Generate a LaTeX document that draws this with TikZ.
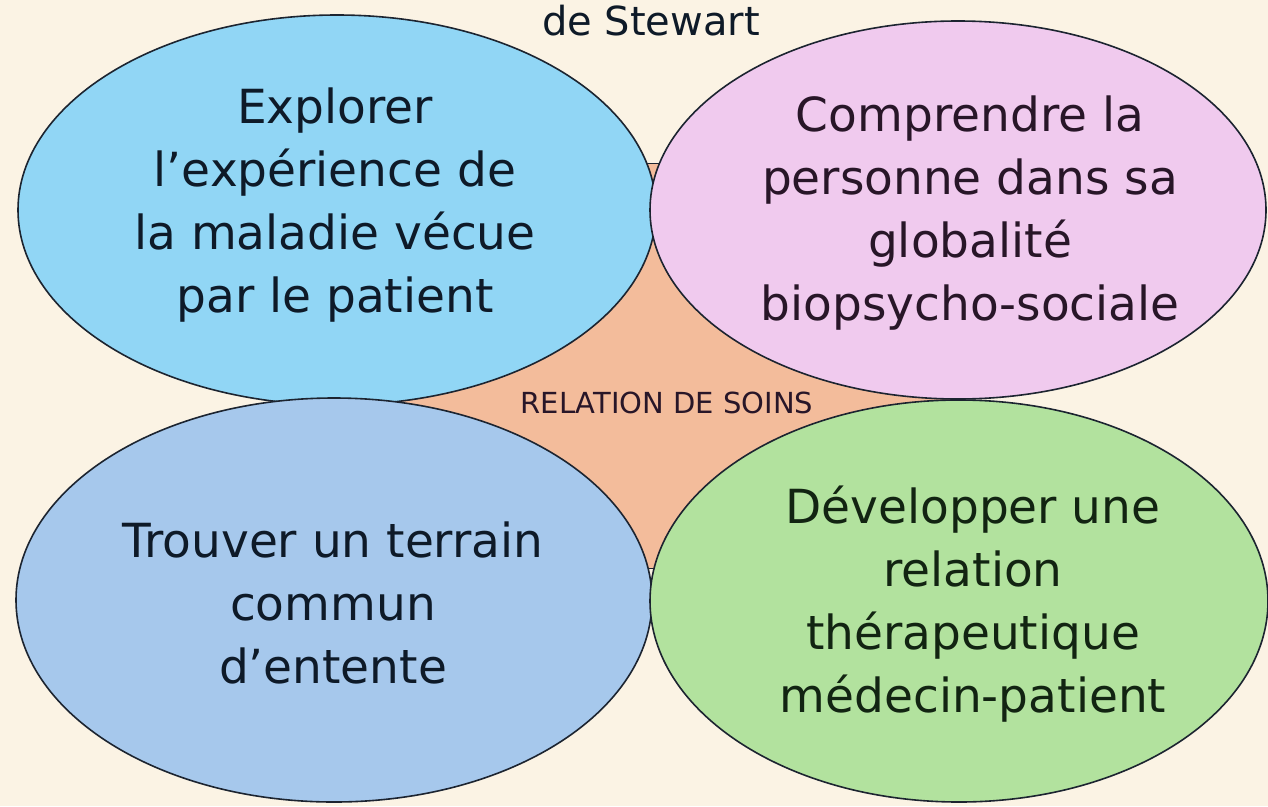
\documentclass[tikz,border=0pt]{standalone}
\usepackage{fontspec}
\setmainfont{DejaVu Sans}
\usetikzlibrary{shapes.geometric}
\definecolor{bgc}{RGB}{251,243,228}
\definecolor{blueA}{RGB}{145,214,245}
\definecolor{pinkA}{RGB}{240,202,238}
\definecolor{blueB}{RGB}{166,200,236}
\definecolor{greenA}{RGB}{178,226,158}
\definecolor{orangeA}{RGB}{243,188,155}
\definecolor{edgec}{RGB}{28,36,48}
\definecolor{txtA}{RGB}{14,26,40}
\definecolor{txtB}{RGB}{40,22,40}
\definecolor{txtC}{RGB}{18,36,18}
\tikzset{
  bubble/.style={ellipse, draw=edgec, line width=1.6pt, inner sep=0pt},
  bigtext/.style={align=center, font=\fontsize{47}{63}\selectfont, inner sep=0pt},
}
\begin{document}
\begin{tikzpicture}[x=1pt,y=-1pt]
\useasboundingbox (0,0) rectangle (1268,806);
\fill[bgc] (0,0) rectangle (1268,806);
% central shape
\node[draw=edgec, line width=1.6pt, fill=orangeA, minimum width=620pt, minimum height=405pt, inner sep=0pt] (core) at (650,366) {};
% ellipses
\node[bubble, fill=blueA, minimum width=638pt, minimum height=390pt] (tl) at (337,210) {};
\node[bubble, fill=pinkA, minimum width=616pt, minimum height=378pt] (tr) at (958,210) {};
\node[bubble, fill=blueB, minimum width=636pt, minimum height=404pt] (bl) at (334,600) {};
\node[bubble, fill=greenA, minimum width=618pt, minimum height=402pt] (br) at (959,601) {};
% texts
\node[font=\fontsize{40}{48}\selectfont, text=txtA, anchor=base, inner sep=0pt] (title) at (651,35) {de Stewart};
\node[font=\fontsize{29}{34}\selectfont, text=txtB, anchor=base, inner sep=0pt] (rel) at (667,413) {RELATION DE SOINS};
\node[bigtext, text=txtA] (ttl) at (335,205) {Explorer\\l’expérience de\\la maladie vécue\\par le patient};
\node[bigtext, text=txtB] (ttr) at (970,213) {Comprendre la\\personne dans sa\\globalité\\biopsycho-sociale};
\node[bigtext, text=txtA] (tbl) at (333,603) {Trouver un terrain\\commun\\d’entente};
\node[bigtext, text=txtC] (tbr) at (973,604) {Développer une\\relation\\thérapeutique\\médecin-patient};
\end{tikzpicture}
\end{document}
